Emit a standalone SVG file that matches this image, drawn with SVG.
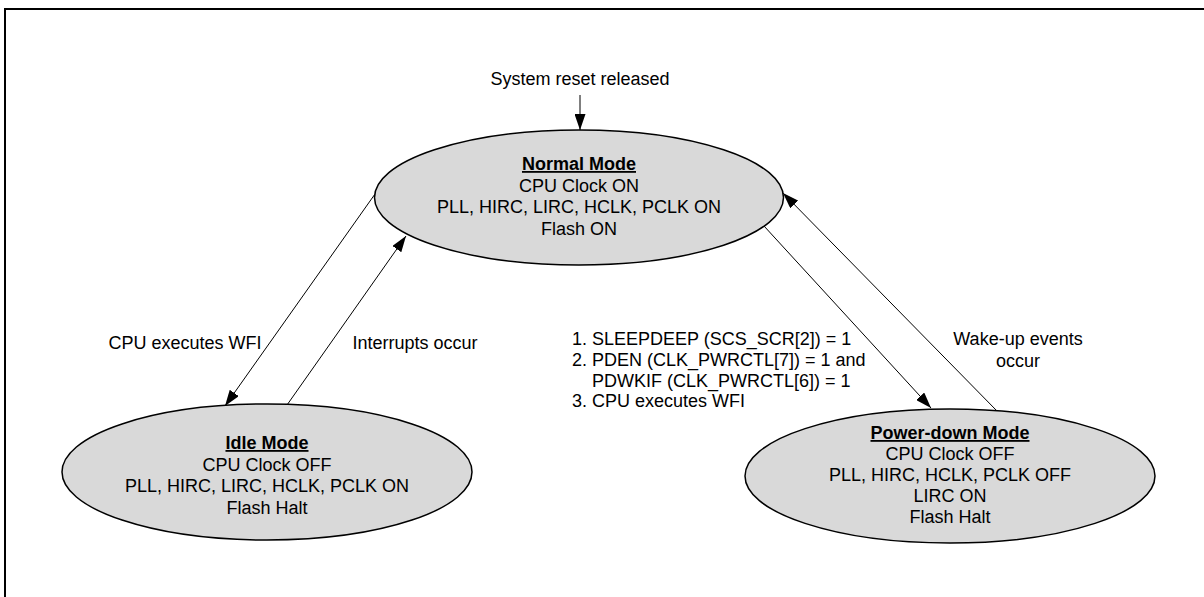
<svg xmlns="http://www.w3.org/2000/svg" width="1204" height="597" viewBox="0 0 1204 597">
<defs>
<style>
text{font-family:"Liberation Sans",Arial,sans-serif;font-size:18px;fill:#000}
.c{text-anchor:middle}
.t{font-weight:bold;text-decoration:underline}
.node{fill:#d9d9d9;stroke:#000;stroke-width:1.5}
.edge{stroke:#000;stroke-width:1;fill:none;marker-end:url(#ah)}
</style>
<marker id="ah" viewBox="0 0 16 11" refX="16" refY="5.5" markerWidth="16" markerHeight="11" markerUnits="userSpaceOnUse" orient="auto">
<path d="M0,0 L16,5.5 L0,11 Z" fill="#000"/>
</marker>
</defs>
<rect width="1204" height="597" fill="#fff"/>
<path d="M5,597 V9 H1204" fill="none" stroke="#000" stroke-width="2"/>

<g id="connectors">
<line class="edge" x1="580" y1="95" x2="580" y2="130"/>
<line class="edge" x1="375" y1="194" x2="225" y2="406"/>
<line class="edge" x1="287" y1="405" x2="406" y2="236"/>
<line class="edge" x1="764" y1="226" x2="931" y2="408"/>
<line class="edge" x1="997" y1="411" x2="783" y2="193"/>
</g>

<g id="labels">
<text class="c" x="580" y="85">System reset released</text>
<text class="c" x="185" y="349">CPU executes WFI</text>
<text class="c" x="415" y="349">Interrupts occur</text>
<text class="c" x="1018" y="345">Wake-up events</text>
<text class="c" x="1018" y="367">occur</text>
<text x="572" y="345">1. SLEEPDEEP (SCS_SCR[2]) = 1</text>
<text x="572" y="366">2. PDEN (CLK_PWRCTL[7]) = 1 and</text>
<text x="592" y="386.5">PDWKIF (CLK_PWRCTL[6]) = 1</text>
<text x="572" y="407">3. CPU executes WFI</text>
</g>

<g id="normal">
<ellipse class="node" cx="579" cy="197.5" rx="204.5" ry="67.5"/>
<text class="c t" x="579" y="170">Normal Mode</text>
<text class="c" x="579" y="191.5">CPU Clock ON</text>
<text class="c" x="579" y="213">PLL, HIRC, LIRC, HCLK, PCLK ON</text>
<text class="c" x="579" y="234.5">Flash ON</text>
</g>

<g id="idle">
<ellipse class="node" cx="267" cy="472" rx="205" ry="68"/>
<text class="c t" x="267" y="449">Idle Mode</text>
<text class="c" x="267" y="470.5">CPU Clock OFF</text>
<text class="c" x="267" y="492">PLL, HIRC, LIRC, HCLK, PCLK ON</text>
<text class="c" x="267" y="513.5">Flash Halt</text>
</g>

<g id="powerdown">
<ellipse class="node" cx="950" cy="476" rx="205" ry="67"/>
<text class="c t" x="950" y="439">Power-down Mode</text>
<text class="c" x="950" y="460">CPU Clock OFF</text>
<text class="c" x="950" y="481">PLL, HIRC, HCLK, PCLK OFF</text>
<text class="c" x="950" y="502">LIRC ON</text>
<text class="c" x="950" y="523">Flash Halt</text>
</g>
</svg>
